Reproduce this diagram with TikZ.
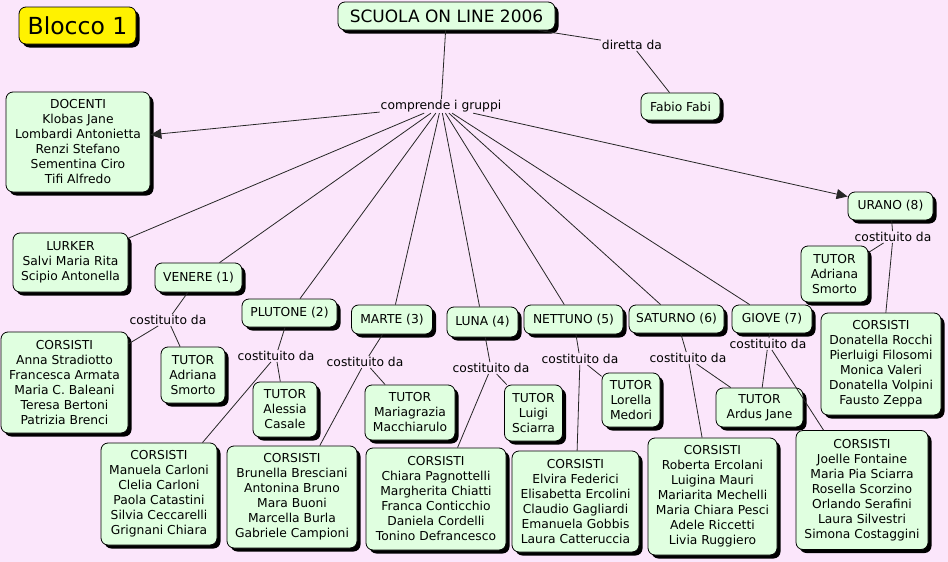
\documentclass[tikz,border=0pt]{standalone}
\usepackage{fontspec}
\setmainfont{DejaVu Sans}
\usetikzlibrary{shadows,arrows.meta}
\definecolor{bg}{RGB}{251,230,251}
\definecolor{ng}{RGB}{224,255,224}
\newcommand{\fs}{\fontsize{12.3}{15}\selectfont}
\begin{document}
\begin{tikzpicture}[x=1pt,y=-1pt,
 cbox/.style={draw=black, line width=0.8pt, fill=ng, rounded corners=7pt, align=center, inner sep=0pt,
   drop shadow={shadow xshift=3.5pt, shadow yshift=-3.5pt, fill=black, opacity=1}, font=\fs},
 sz/.style 2 args={minimum width=#1pt, minimum height=#2pt},
 lab/.style={inner sep=1pt, font=\fs},
 conn/.style={draw=black!85, line width=0.8pt},
 arr/.style={conn, -{Triangle[length=11pt,width=10pt]}}]
\fill[bg] (0,0) rectangle (948,562);
\useasboundingbox (0,0) rectangle (948,562);

% top
\node[cbox, fill=yellow, sz={117}{37}, font=\fontsize{23.5}{28}\selectfont] (blocco) at (77.5,25.5) {Blocco 1};
\node[cbox, sz={217}{28}, font=\fontsize{17}{20}\selectfont] (scuola) at (446.5,16) {SCUOLA ON LINE 2006};
\node[lab] (dir) at (632,45) {diretta da};
\node[cbox, sz={79}{27}] (fabio) at (680.5,106.5) {Fabio Fabi};
\node[lab] (comp) at (441,106) {comprende i gruppi};
\node[cbox, sz={144}{100}] (doc) at (78,142) {DOCENTI\\Klobas Jane\\Lombardi Antonietta\\Renzi Stefano\\Sementina Ciro\\Tifi Alfredo};
\node[cbox, sz={115}{59}] (lurker) at (70.5,262.5) {LURKER\\Salvi Maria Rita\\Scipio Antonella};

% Venere
\node[cbox, sz={87}{29}] (venere) at (198.5,277.5) {VENERE (1)};
\node[lab] (c1) at (168,320) {costituito da};
\node[cbox, sz={127}{101}] (s1) at (64.5,382.5) {CORSISTI\\Anna Stradiotto\\Francesca Armata\\Maria C. Baleani\\Teresa Bertoni\\Patrizia Brenci};
\node[cbox, sz={64}{56}] (t1) at (193,375) {TUTOR\\Adriana\\Smorto};

% Plutone
\node[cbox, sz={95}{28}] (plutone) at (289.5,313) {PLUTONE (2)};
\node[lab] (c2) at (276,356) {costituito da};
\node[cbox, sz={64}{55}] (t2) at (285,409.5) {TUTOR\\Alessia\\Casale};
\node[cbox, sz={116}{102}] (s2) at (159,494) {CORSISTI\\Manuela Carloni\\Clelia Carloni\\Paola Catastini\\Silvia Ceccarelli\\Grignani Chiara};

% Marte
\node[cbox, sz={81}{29}] (marte) at (392,319.5) {MARTE (3)};
\node[lab] (c3) at (365,362) {costituito da};
\node[cbox, sz={90}{55}] (t3) at (410,412.5) {TUTOR\\Mariagrazia\\Macchiarulo};
\node[cbox, sz={130}{102}] (s3) at (292,497) {CORSISTI\\Brunella Bresciani\\Antonina Bruno\\Mara Buoni\\Marcella Burla\\Gabriele Campioni};

% Luna
\node[cbox, sz={71}{30}] (luna) at (482.5,322) {LUNA (4)};
\node[lab] (c4) at (491,368) {costituito da};
\node[cbox, sz={58}{56}] (t4) at (533.5,413) {TUTOR\\Luigi\\Sciarra};
\node[cbox, sz={140}{102}] (s4) at (436,499) {CORSISTI\\Chiara Pagnottelli\\Margherita Chiatti\\Franca Conticchio\\Daniela Cordelli\\Tonino Defrancesco};

% Nettuno
\node[cbox, sz={99}{29}] (nettuno) at (573.5,319.5) {NETTUNO (5)};
\node[lab] (c5) at (580,359) {costituito da};
\node[cbox, sz={58}{54}] (t5) at (631,400) {TUTOR\\Lorella\\Medori};
\node[cbox, sz={127}{101}] (s5) at (575.5,501.5) {CORSISTI\\Elvira Federici\\Elisabetta Ercolini\\Claudio Gagliardi\\Emanuela Gobbis\\Laura Catteruccia};

% Saturno
\node[cbox, sz={95}{28}] (saturno) at (676.5,319) {SATURNO (6)};
\node[lab] (c6) at (688,358) {costituito da};
\node[cbox, sz={87}{39}] (ardus) at (759.5,407.5) {TUTOR\\Ardus Jane};
\node[cbox, sz={129}{117}] (s6) at (712.5,496.5) {CORSISTI\\Roberta Ercolani\\Luigina Mauri\\Mariarita Mechelli\\Maria Chiara Pesci\\Adele Riccetti\\Livia Ruggiero};

% Giove
\node[cbox, sz={80}{28}] (giove) at (772,319) {GIOVE (7)};
\node[lab] (c7) at (768,344) {costituito da};
\node[cbox, sz={132}{119}] (s7) at (862,490) {CORSISTI\\Joelle Fontaine\\Maria Pia Sciarra\\Rosella Scorzino\\Orlando Serafini\\Laura Silvestri\\Simona Costaggini};

% Urano
\node[cbox, sz={85}{28}] (urano) at (890.5,206) {URANO (8)};
\node[lab] (c8) at (893,237) {costituito da};
\node[cbox, sz={67}{56}] (t8) at (834.5,274) {TUTOR\\Adriana\\Smorto};
\node[cbox, sz={120}{102}] (s8) at (881,364) {CORSISTI\\Donatella Rocchi\\Pierluigi Filosomi\\Monica Valeri\\Donatella Volpini\\Fausto Zeppa};

% connectors
\draw[conn] (scuola) -- (comp);
\draw[conn] (scuola) -- (dir);
\draw[conn] (dir) -- (fabio);
\draw[arr] (comp) -- (doc);
\draw[arr] (comp) -- (urano);
\foreach \g in {lurker,venere,plutone,marte,luna,nettuno,saturno,giove}
  \draw[conn] (comp) -- (\g);
\draw[conn] (venere) -- (c1); \draw[conn] (c1) -- (s1); \draw[conn] (c1) -- (t1);
\draw[conn] (plutone) -- (c2); \draw[conn] (c2) -- (s2); \draw[conn] (c2) -- (t2);
\draw[conn] (marte) -- (c3); \draw[conn] (c3) -- (s3); \draw[conn] (c3) -- (t3);
\draw[conn] (luna) -- (c4); \draw[conn] (c4) -- (s4); \draw[conn] (c4) -- (t4);
\draw[conn] (nettuno) -- (c5); \draw[conn] (c5) -- (s5); \draw[conn] (c5) -- (t5);
\draw[conn] (saturno) -- (c6); \draw[conn] (c6) -- (s6); \draw[conn] (c6) -- (ardus);
\draw[conn] (giove) -- (c7); \draw[conn] (c7) -- (s7); \draw[conn] (c7) -- (ardus);
\draw[conn] (urano) -- (c8); \draw[conn] (c8) -- (s8); \draw[conn] (c8) -- (t8);
\end{tikzpicture}
\end{document}
